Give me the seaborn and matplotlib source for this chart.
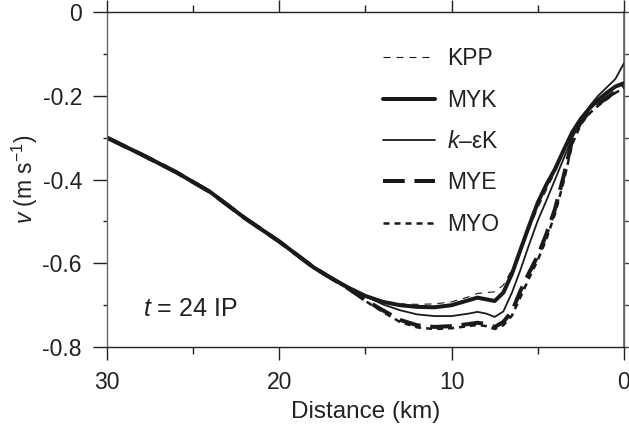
import numpy as np
import pandas as pd
import matplotlib
matplotlib.use("Agg")
import matplotlib.pyplot as plt
import seaborn as sns
from matplotlib.ticker import MultipleLocator, FuncFormatter

# ---- data ----
distance = [30, 28, 26, 24, 22, 20, 18, 17, 16, 15, 14, 13, 12, 11, 10, 9, 8.5, 8, 7.5, 7,
            6.5, 6, 5.5, 5, 4.5, 4, 3.5, 3, 2.5, 2, 1.5, 1, 0.5, 0]

kpp = [-0.300, -0.340, -0.382, -0.430, -0.492, -0.548, -0.610, -0.635, -0.658, -0.678,
       -0.690, -0.697, -0.698, -0.697, -0.692, -0.680, -0.672, -0.670, -0.668, -0.652,
       -0.615, -0.572, -0.518, -0.468, -0.425, -0.382, -0.336, -0.290, -0.258, -0.232,
       -0.212, -0.195, -0.180, -0.170]
myk = [-0.300, -0.340, -0.382, -0.430, -0.492, -0.548, -0.610, -0.635, -0.658, -0.678,
       -0.692, -0.700, -0.704, -0.705, -0.700, -0.688, -0.682, -0.686, -0.690, -0.670,
       -0.625, -0.567, -0.510, -0.455, -0.412, -0.375, -0.330, -0.287, -0.255, -0.230,
       -0.210, -0.193, -0.178, -0.170]
ke = [-0.300, -0.340, -0.382, -0.430, -0.492, -0.548, -0.610, -0.635, -0.658, -0.678,
      -0.698, -0.712, -0.722, -0.726, -0.726, -0.720, -0.716, -0.720, -0.728, -0.715,
      -0.670, -0.615, -0.555, -0.498, -0.450, -0.400, -0.350, -0.300, -0.262, -0.225,
      -0.200, -0.180, -0.160, -0.122]
mye = [-0.300, -0.340, -0.382, -0.430, -0.492, -0.548, -0.610, -0.635, -0.660, -0.688,
       -0.712, -0.735, -0.748, -0.752, -0.750, -0.745, -0.742, -0.745, -0.752, -0.740,
       -0.715, -0.665, -0.622, -0.582, -0.530, -0.470, -0.392, -0.305, -0.262, -0.238,
       -0.220, -0.205, -0.190, -0.178]
myo = [-0.300, -0.340, -0.382, -0.430, -0.492, -0.548, -0.610, -0.635, -0.661, -0.690,
       -0.716, -0.740, -0.753, -0.757, -0.755, -0.750, -0.747, -0.750, -0.757, -0.748,
       -0.725, -0.680, -0.635, -0.592, -0.542, -0.482, -0.405, -0.315, -0.268, -0.242,
       -0.224, -0.208, -0.193, -0.182]

series_names = ["KPP", "MYK", "k–εK", "MYE", "MYO"]
legend_labels = ["KPP", "MYK", r"$k$–εK", "MYE", "MYO"]
series_values = [kpp, myk, ke, mye, myo]

# ---- style ----
sns.set_theme(style="white")
plt.rcParams["font.family"] = ["Liberation Sans", "DejaVu Sans"]
plt.rcParams["mathtext.fontset"] = "custom"
plt.rcParams["mathtext.rm"] = "Liberation Sans"
plt.rcParams["mathtext.it"] = "Liberation Sans:italic"
plt.rcParams["axes.unicode_minus"] = False

styles = {
    "KPP":  dict(lw=0.8, ls=(0, (6.3, 5.4))),
    "MYK":  dict(lw=2.9, ls="-"),
    "k–εK": dict(lw=1.3, ls="-"),
    "MYE":  dict(lw=2.9, ls=(0, (5.4, 2.4))),
    "MYO":  dict(lw=1.8, ls=(0, (2.4, 2.0))),
}

TXT = "#222222"
fig = plt.figure(figsize=(6.29, 4.29), dpi=100)
ax = fig.add_axes([0.170, 0.191, 0.822, 0.781])

for name, vals, lab in zip(series_names, series_values, legend_labels):
    df = pd.DataFrame({"distance": distance, "v": vals})
    st = styles[name]
    sns.lineplot(data=df, x="distance", y="v", ax=ax, color="#1a1a1a",
                 linewidth=st["lw"], linestyle=st["ls"], sort=False,
                 estimator=None, label=lab)

ax.set_xlim(30, 0)
ax.set_ylim(-0.8, 0)

ax.xaxis.set_major_locator(MultipleLocator(10))
ax.xaxis.set_minor_locator(MultipleLocator(5))
ax.yaxis.set_major_locator(MultipleLocator(0.2))
ax.yaxis.set_minor_locator(MultipleLocator(0.1))
ax.xaxis.set_major_formatter(FuncFormatter(lambda v, p: f"{v:.0f}"))
ax.yaxis.set_major_formatter(FuncFormatter(lambda v, p: "0" if abs(v) < 1e-9 else f"{v:.1f}"))

ax.tick_params(axis="x", which="major", direction="out", length=9, width=1,
               top=True, bottom=True, labelsize=16.5, pad=8, color=TXT, labelcolor=TXT)
ax.tick_params(axis="x", which="minor", direction="out", length=5, width=1,
               top=True, bottom=True, color=TXT)
ax.tick_params(axis="y", which="major", direction="out", length=10, width=1,
               left=True, right=False, labelsize=16.5, pad=8, color=TXT, labelcolor=TXT)
ax.tick_params(axis="y", which="minor", direction="out", length=3, width=1,
               left=True, right=False, color=TXT)

sec = ax.secondary_yaxis("right")
sec.yaxis.set_major_locator(MultipleLocator(0.1))
sec.tick_params(axis="y", which="both", direction="out", length=4, width=1,
                labelright=False, color="#444444")
sec.spines["right"].set_color("#666666")

for side in ["top", "bottom"]:
    ax.spines[side].set_color(TXT)
    ax.spines[side].set_linewidth(1)
for side in ["left", "right"]:
    ax.spines[side].set_color("#666666")
    ax.spines[side].set_linewidth(1)

ax.set_xlabel("Distance (km)", fontsize=17.5, labelpad=5, color=TXT)
ax.set_ylabel(r"$v$ (m s$^{-1}$)", fontsize=16.5, labelpad=2, color=TXT)

ax.text(27.9, -0.725, r"$t$ = 24 IP", fontsize=18, ha="left", va="baseline",
        color=TXT)

leg = ax.legend(loc="upper left", bbox_to_anchor=(0.534, 0.895), frameon=False,
                fontsize=16.5, handlelength=2.25, handletextpad=0.55,
                labelspacing=0.80, borderpad=0, borderaxespad=0)
for t in leg.get_texts():
    t.set_color(TXT)

fig.savefig("out.png", dpi=100)
